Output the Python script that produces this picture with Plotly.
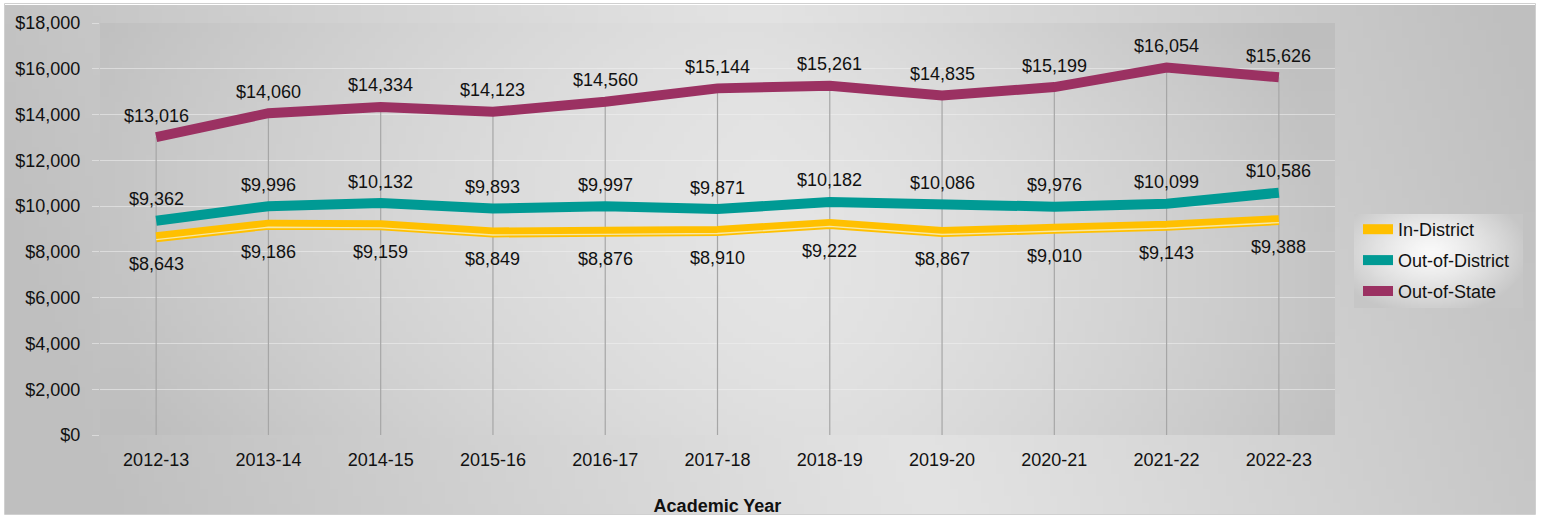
import zlib, struct, base64, math
import plotly.graph_objects as go

# ---------------- data ----------------
years = ["2012-13", "2013-14", "2014-15", "2015-16", "2016-17", "2017-18",
         "2018-19", "2019-20", "2020-21", "2021-22", "2022-23"]
in_district = [8643, 9186, 9159, 8849, 8876, 8910, 9222, 8867, 9010, 9143, 9388]
out_of_district = [9362, 9996, 10132, 9893, 9997, 9871, 10182, 10086, 9976, 10099, 10586]
out_of_state = [13016, 14060, 14334, 14123, 14560, 15144, 15261, 14835, 15199, 16054, 15626]
y_ticks = [0, 2000, 4000, 6000, 8000, 10000, 12000, 14000, 16000, 18000]
y_tick_labels = [f"${v:,}" for v in y_ticks]

C_IN = "#FFC000"
C_OOD = "#009A94"
C_OOS = "#9B3162"
FONT = "Liberation Sans, Arial, sans-serif"

W, H = 1541, 517
L, R, T, B = 100, 206, 23, 82
PW, PH = W - L - R, H - T - B


# ---------------- gradient images (pure python png) ----------------
def make_png(w, h, fn):
    raw = bytearray()
    for j in range(h):
        raw.append(0)
        for i in range(w):
            v = int(max(0, min(255, fn(i / (w - 1), j / (h - 1)))))
            raw += bytes((v, v, v))

    def chunk(t, d):
        c = struct.pack(">I", len(d)) + t + d
        return c + struct.pack(">I", zlib.crc32(t + d) & 0xFFFFFFFF)

    png = (b"\x89PNG\r\n\x1a\n"
           + chunk(b"IHDR", struct.pack(">IIBBBBB", w, h, 8, 2, 0, 0, 0))
           + chunk(b"IDAT", zlib.compress(bytes(raw), 9))
           + chunk(b"IEND", b""))
    return "data:image/png;base64," + base64.b64encode(png).decode()


def outer_fn(u, v):
    t = u - 0.12 * (v - 0.5)
    peak = 0.55
    if t < peak:
        d = (peak - t) / peak
    else:
        d = (t - peak) / (1.05 - peak)
    return 0xE3 - 0x24 * min(1.0, d) ** 1.1


def plot_fn(u, v):
    t = u - 0.06 * (v - 0.5)
    peak = 0.55
    if t < peak:
        d = (peak - t) / peak
    else:
        d = (t - peak) / (1.0 - peak)
    dv = abs(v - 0.5) * 2
    return 0xE5 - 0x21 * min(1.0, d) ** 1.4 - 6 * dv ** 2


def legend_fn(u, v):
    d = math.sqrt(((u - 0.45) / 0.6) ** 2 + ((v - 0.4) / 0.7) ** 2)
    return 0xFA - 0x34 * min(1.0, d) ** 1.3


img_outer = make_png(200, 70, outer_fn)
img_plot = make_png(200, 70, plot_fn)
img_leg = make_png(80, 45, legend_fn)


def px_x(x):
    return (x - L) / PW


def px_y(y):
    return (H - B - y) / PH


# ---------------- figure ----------------
fig = go.Figure()

# drop lines from 0 up to the highest series
dx, dy = [], []
for cat, v in zip(years, out_of_state):
    dx += [cat, cat, None]
    dy += [0, v, None]
fig.add_trace(go.Scatter(x=dx, y=dy, mode="lines", line=dict(color="#A6A6A6", width=1.2),
                         hoverinfo="skip", showlegend=False))

fig.add_trace(go.Scatter(x=years, y=in_district, mode="lines", name="In-District",
                         legendgroup="a", line=dict(color=C_IN, width=10)))
fig.add_trace(go.Scatter(x=years, y=in_district, mode="lines", yaxis="y2",
                         line=dict(color="#F6E7A6", width=1.4), showlegend=False,
                         legendgroup="a", hoverinfo="skip"))
fig.add_trace(go.Scatter(x=years, y=out_of_district, mode="lines", name="Out-of-District",
                         legendgroup="b", line=dict(color=C_OOD, width=10)))
fig.add_trace(go.Scatter(x=years, y=out_of_state, mode="lines", name="Out-of-State",
                         legendgroup="c", line=dict(color=C_OOS, width=10)))

ann = []
lab_font = dict(family=FONT, size=18, color="#111111")
for cat, v in zip(years, out_of_state):
    ann.append(dict(x=cat, y=v, text=f"${v:,}", showarrow=False, yshift=21.5, font=lab_font))
for cat, v in zip(years, out_of_district):
    ann.append(dict(x=cat, y=v, text=f"${v:,}", showarrow=False, yshift=21.5, font=lab_font))
for cat, v in zip(years, in_district):
    ann.append(dict(x=cat, y=v, text=f"${v:,}", showarrow=False, yshift=-27, font=lab_font))

shift = 2.5 * 18000 / PH

fig.update_layout(
    width=W, height=H,
    margin=dict(l=L, r=R, t=T, b=B, autoexpand=False),
    paper_bgcolor="white",
    plot_bgcolor="rgba(0,0,0,0)",
    font=dict(family=FONT, size=18, color="#111111"),
    annotations=ann,
    xaxis=dict(type="category", range=[-0.5, 10.5], showgrid=False, zeroline=False,
               showline=False, ticks="", ticklabelstandoff=12,
               tickfont=dict(size=18),
               title=dict(text="<b>Academic Year</b>", font=dict(size=18), standoff=30)),
    yaxis=dict(range=[0, 18000], tickvals=y_ticks, ticktext=y_tick_labels,
               showgrid=True, gridcolor="rgba(240,240,240,0.55)", gridwidth=1.2,
               zeroline=False, showline=False, ticks="outside", ticklen=7,
               tickcolor="rgba(240,240,240,0.55)", ticklabelstandoff=8,
               tickfont=dict(size=18)),
    yaxis2=dict(range=[shift, 18000 + shift], overlaying="y", visible=False),
    legend=dict(x=px_x(1358), y=px_y(211), xanchor="left", yanchor="top",
                bgcolor="rgba(0,0,0,0)", font=dict(size=18, color="#111111"),
                traceorder="grouped", itemwidth=30, tracegroupgap=4.5),
    images=[
        dict(source=img_outer, xref="paper", yref="paper", x=px_x(5), y=px_y(5),
             sizex=(1535 - 5) / PW, sizey=(514 - 5) / PH, sizing="stretch",
             xanchor="left", yanchor="top", layer="below"),
        dict(source=img_plot, xref="paper", yref="paper", x=0, y=1, sizex=1, sizey=1,
             sizing="stretch", xanchor="left", yanchor="top", layer="below"),
        dict(source=img_leg, xref="paper", yref="paper", x=px_x(1354), y=px_y(214),
             sizex=(1523 - 1354) / PW, sizey=(308 - 214) / PH, sizing="stretch",
             xanchor="left", yanchor="top", layer="below"),
    ],
    shapes=[
        dict(type="rect", xref="paper", yref="paper", x0=px_x(4.5), x1=px_x(1535.5),
             y0=px_y(514.5), y1=px_y(3.5), line=dict(color="#D0D0D0", width=1),
             fillcolor="rgba(0,0,0,0)", layer="below"),
    ],
)

fig.write_html("out.html", config={"displayModeBar": False},
               post_script="document.body.style.margin='0';document.body.style.overflow='hidden';")
